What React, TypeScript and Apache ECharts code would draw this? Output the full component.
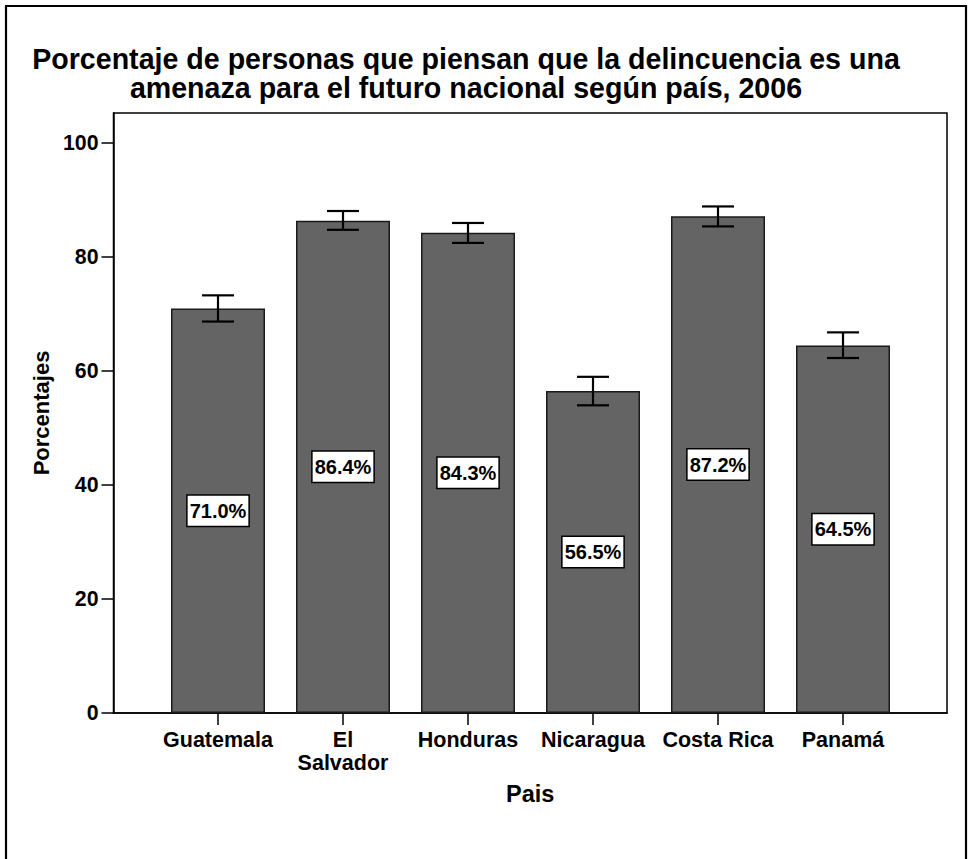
import React, { useEffect, useRef } from "react";
import * as echarts from "echarts";

const categories = ["Guatemala", "El\nSalvador", "Honduras", "Nicaragua", "Costa Rica", "Panamá"];
const percentages = [71.0, 86.4, 84.3, 56.5, 87.2, 64.5];
const ciLow = [68.7, 84.8, 82.5, 54.0, 85.4, 62.3];
const ciHigh = [73.3, 88.1, 86.0, 59.0, 88.9, 66.8];
const yTicks = [0, 20, 40, 60, 80, 100];
const xTicks = [0, 1, 2, 3, 4, 5];
const titleLines = [
  "Porcentaje de personas que piensan que la delincuencia es una",
  "amenaza para el futuro nacional según país, 2006",
];
const yAxisName = "Porcentajes";
const xAxisName = "Pais";

const FONT = "'Liberation Sans', Arial, sans-serif";

export default function App() {
  const ref = useRef<HTMLDivElement>(null);

  useEffect(() => {
    if (!ref.current) return;
    const chart = echarts.init(ref.current, null, { renderer: "svg" });

    const barData = percentages.map((v, i) => [i, v]);
    const errData = percentages.map((_, i) => [i, ciLow[i], ciHigh[i]]);

    chart.setOption({
      animation: false,
      backgroundColor: "#ffffff",
      textStyle: { fontFamily: FONT, color: "#000" },
      graphic: [
        {
          type: "rect",
          shape: { x: 6, y: 6, width: 960, height: 900 },
          style: { fill: "none", stroke: "#000", lineWidth: 2.2 },
          silent: true,
        },
        {
          type: "text",
          style: {
            text: titleLines[0],
            x: 466,
            y: 58.5,
            align: "center",
            verticalAlign: "middle",
            font: `bold 28.6px ${FONT}`,
            fill: "#000",
          },
        },
        {
          type: "text",
          style: {
            text: titleLines[1],
            x: 466,
            y: 87.5,
            align: "center",
            verticalAlign: "middle",
            font: `bold 28.6px ${FONT}`,
            fill: "#000",
          },
        },
      ],
      grid: {
        left: 113.5,
        top: 113,
        width: 833.5,
        height: 600,
        show: true,
        borderColor: "#000",
        borderWidth: 1.5,
        backgroundColor: "transparent",
      },
      xAxis: {
        type: "value",
        min: -0.836,
        max: 5.832,
        splitLine: { show: false },
        axisLine: { show: true, onZero: false, lineStyle: { color: "#000", width: 1.5 } },
        axisTick: {
          show: true,
          customValues: xTicks,
          length: 12,
          lineStyle: { color: "#000", width: 1.5 },
        },
        axisLabel: {
          customValues: xTicks,
          formatter: (v: number) => categories[Math.round(v)] ?? "",
          fontSize: 21.5,
          fontWeight: "bold",
          lineHeight: 23,
          color: "#000",
          margin: 15,
          fontFamily: FONT,
        },
        name: xAxisName,
        nameLocation: "middle",
        nameGap: 69,
        nameTextStyle: { fontSize: 23.5, fontWeight: "bold", color: "#000", fontFamily: FONT },
      },
      yAxis: {
        type: "value",
        min: 0,
        max: 105.3,
        splitLine: { show: false },
        axisLine: { show: true, onZero: false, lineStyle: { color: "#000", width: 1.5 } },
        axisTick: {
          show: true,
          customValues: yTicks,
          length: 12,
          lineStyle: { color: "#000", width: 1.5 },
        },
        axisLabel: {
          customValues: yTicks,
          fontSize: 21.3,
          fontWeight: "bold",
          color: "#000",
          margin: 15,
          fontFamily: FONT,
        },
        name: yAxisName,
        nameLocation: "middle",
        nameGap: 57,
        nameTextStyle: { fontSize: 22, fontWeight: "bold", color: "#000", fontFamily: FONT },
      },
      series: [
        {
          type: "bar",
          data: barData,
          barWidth: 94,
          itemStyle: { color: "#646464", borderColor: "#1a1a1a", borderWidth: 1.5 },
          label: {
            show: true,
            position: "inside",
            formatter: (p: any) => `${Number(p.value[1]).toFixed(1)}%`,
            fontSize: 20,
            fontWeight: "bold",
            color: "#000",
            fontFamily: FONT,
            backgroundColor: "#ffffff",
            borderColor: "#000",
            borderWidth: 1.5,
            lineHeight: 22,
            padding: [4, 2, 4, 2],
          },
          z: 2,
        },
        {
          type: "custom",
          data: errData,
          encode: { x: 0, y: [1, 2] },
          z: 3,
          renderItem: (params: any, api: any) => {
            const x = api.value(0);
            const lo = api.coord([x, api.value(1)]);
            const hi = api.coord([x, api.value(2)]);
            const half = 16;
            const style = { stroke: "#000", lineWidth: 2.2 };
            return {
              type: "group",
              children: [
                { type: "line", shape: { x1: lo[0], y1: lo[1], x2: hi[0], y2: hi[1] }, style },
                { type: "line", shape: { x1: lo[0] - half, y1: lo[1], x2: lo[0] + half, y2: lo[1] }, style },
                { type: "line", shape: { x1: hi[0] - half, y1: hi[1], x2: hi[0] + half, y2: hi[1] }, style },
              ],
            };
          },
        },
      ],
    });

    return () => chart.dispose();
  }, []);

  return (
    <div
      ref={ref}
      style={{ position: "absolute", left: 0, top: 0, width: 969, height: 859 }}
    />
  );
}
